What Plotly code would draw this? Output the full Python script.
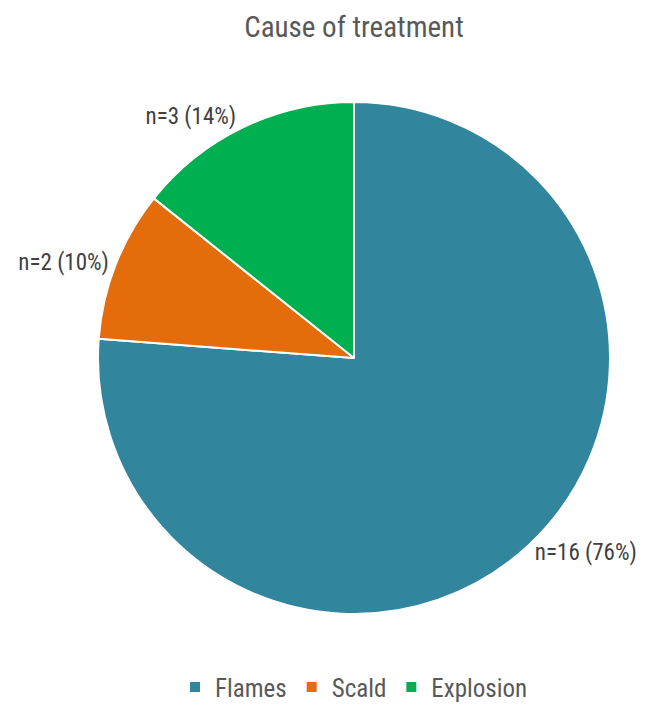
import plotly.graph_objects as go

causes = ["Flames", "Scald", "Explosion"]
counts = [16, 2, 3]
pct_labels = ["76%", "10%", "14%"]
colors = ["#31859C", "#E46C0A", "#00B050"]

label_text = [f"n={c} ({p})" for c, p in zip(counts, pct_labels)]

FONT = "Roboto Condensed, Liberation Sans Narrow, Arial Narrow, sans-serif"

fig = go.Figure(go.Pie(
    labels=causes,
    values=counts,
    text=label_text,
    textinfo="text",
    textposition="outside",
    hoverinfo="label+value+percent",
    sort=False,
    direction="clockwise",
    rotation=0,
    marker=dict(colors=colors, line=dict(color="white", width=2)),
    outsidetextfont=dict(family=FONT, size=23, color="#404040"),
))

fig.update_layout(
    width=648,
    height=714,
    paper_bgcolor="white",
    plot_bgcolor="white",
    margin=dict(l=80, r=44, t=94, b=96),
    font=dict(family=FONT, color="#404040"),
    title=dict(
        text="Cause of treatment",
        x=0.5, xref="paper",
        y=1 - 19 / 714, yanchor="middle",
        font=dict(family=FONT, size=29, color="#595959"),
    ),
    legend=dict(
        orientation="h",
        x=0.5, xanchor="center",
        y=-0.143, yanchor="middle",
        font=dict(family=FONT, size=25, color="#595959"),
        itemwidth=30,
    ),
)

fig.write_html("out.html")
